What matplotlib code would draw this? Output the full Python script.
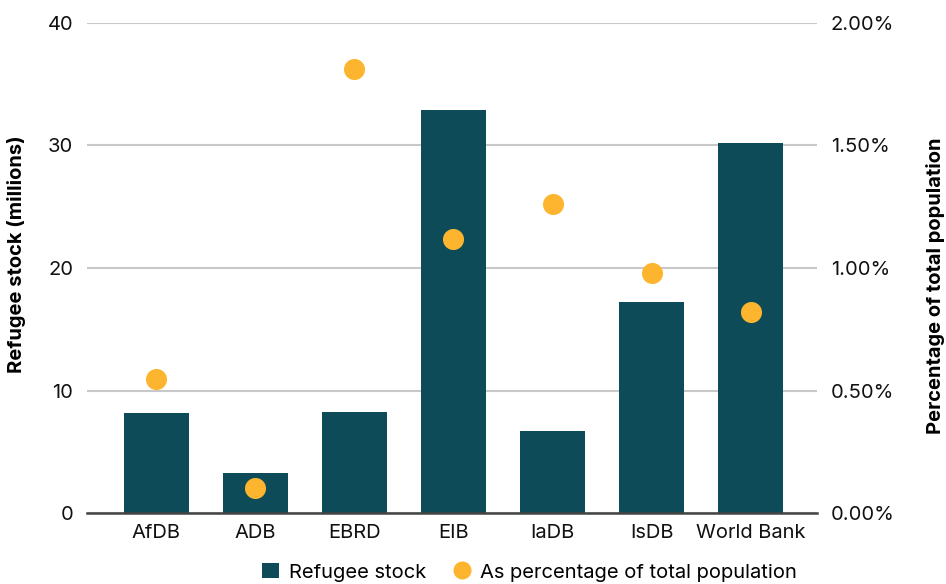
import matplotlib
matplotlib.use("Agg")

import matplotlib.pyplot as plt
from matplotlib.lines import Line2D
from matplotlib.patches import Patch
from matplotlib.ticker import FuncFormatter

plt.rcParams['font.family'] = ['Inter', 'DejaVu Sans']

banks = ["AfDB", "ADB", "EBRD", "EIB", "IaDB", "IsDB", "World Bank"]
refugee_stock = [8.15, 3.25, 8.3, 32.9, 6.7, 17.2, 30.2]   # millions
pct_population = [0.547, 0.102, 1.811, 1.119, 1.261, 0.978, 0.819]  # percent

bar_color = "#0d4b58"
dot_color = "#fdb52f"
grid_color = "#c8c8c8"

fig = plt.figure(figsize=(9.46, 5.84), dpi=100)
ax = fig.add_axes([87 / 946, 1 - 513.3 / 584, 730 / 946, 490.6 / 584])
ax2 = ax.twinx()

x = range(len(banks))
ax.bar(x, refugee_stock, width=0.66, color=bar_color, zorder=2)
ax2.scatter(x, pct_population, s=230, color=dot_color, zorder=3, linewidths=0)

ax.set_xlim(-0.7, 6.67)
ax.set_ylim(0, 40)
ax2.set_ylim(0, 2.0)
ax.set_yticks([0, 10, 20, 30, 40])
ax2.set_yticks([0, 0.5, 1.0, 1.5, 2.0])
ax2.yaxis.set_major_formatter(FuncFormatter(lambda v, p: f"{v:.2f}%"))

ax.set_xticks(list(x))
ax.set_xticklabels(banks)
ax.yaxis.grid(True, color=grid_color, linewidth=1.5, zorder=0)
ax.set_axisbelow(True)

for a in (ax, ax2):
    for s in ("top", "left", "right", "bottom"):
        a.spines[s].set_visible(False)
    a.tick_params(length=0, labelsize=14.5, colors="#111111")
ax.spines["bottom"].set_visible(True)
ax.spines["bottom"].set_color("#444444")
ax.spines["bottom"].set_linewidth(1.8)
ax.spines["bottom"].set_zorder(4)
ax.tick_params(axis="y", pad=10)
ax.tick_params(axis="x", pad=8)
ax2.tick_params(axis="y", pad=10)

ax.set_ylabel("Refugee stock (millions)", fontsize=14.5, fontweight="bold")
ax2.set_ylabel("Percentage of total population", fontsize=14.5, fontweight="bold")
ax.yaxis.set_label_coords(-61 / 730, 0.528)
ax2.yaxis.set_label_coords(1 + 109 / 730, 0.463)

handles = [
    Patch(facecolor=bar_color, label="Refugee stock"),
    Line2D([], [], marker="o", linestyle="", markersize=13, markerfacecolor=dot_color,
           markeredgewidth=0, label="As percentage of total population"),
]
fig.legend(handles=handles, loc="lower center", bbox_to_anchor=(0.56, -0.027), ncol=2,
           frameon=False, fontsize=14.5, handlelength=0.8, handleheight=0.8,
           columnspacing=1.4, handletextpad=0.5)

fig.savefig("out.png", dpi=100)
